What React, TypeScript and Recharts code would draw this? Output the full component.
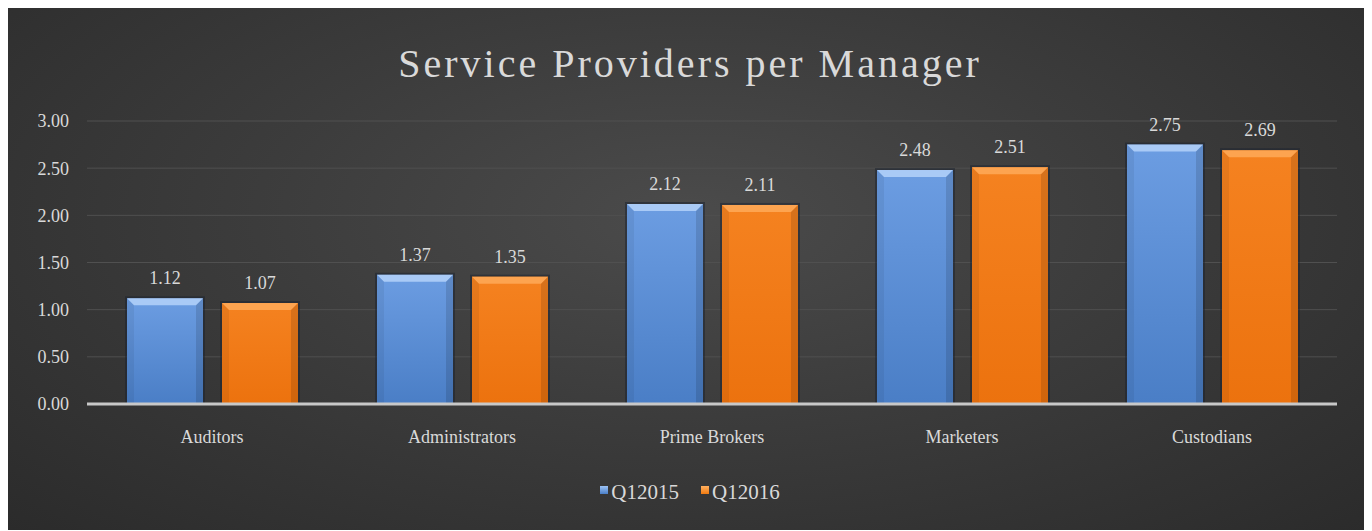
import React from 'react'
import { BarChart, Bar, XAxis, YAxis, CartesianGrid, LabelList } from 'recharts'

const categories = ['Auditors', 'Administrators', 'Prime Brokers', 'Marketers', 'Custodians']
const q12015 = [1.12, 1.37, 2.12, 2.48, 2.75]
const q12016 = [1.07, 1.35, 2.11, 2.51, 2.69]
const yTicks = [0, 0.5, 1, 1.5, 2, 2.5, 3]

const data = categories.map((name, i) => ({ name, q12015: q12015[i], q12016: q12016[i] }))

const FONT = '"Liberation Serif", "DejaVu Serif", serif'
const TEXT = '#d9d9d9'

const BevelBar = (props: any) => {
  const { x, y, width, height, gid, edge } = props
  if (!height || height <= 0) return null
  const b = 7
  return (
    <g>
      <rect x={x - 2} y={y - 2} width={width + 4} height={height + 2} fill="#1a2230" opacity={0.5} />
      <rect x={x} y={y} width={width} height={height} fill={`url(#${gid})`} />
      <polygon points={`${x},${y} ${x + width},${y} ${x + width - b},${y + b} ${x + b},${y + b}`} fill={edge} opacity={0.8} />
      <polygon points={`${x},${y} ${x + b},${y + b} ${x + b},${y + height} ${x},${y + height}`} fill="#000" opacity={0.06} />
      <polygon points={`${x + width},${y} ${x + width - b},${y + b} ${x + width - b},${y + height} ${x + width},${y + height}`} fill="#000" opacity={0.12} />
    </g>
  )
}

const LegendRow = () => (
  <div style={{ position: 'absolute', top: 472, left: 0, width: '100%', display: 'flex', justifyContent: 'center', gap: 22, fontFamily: FONT, fontSize: 21, color: TEXT }}>
    <span style={{ display: 'flex', alignItems: 'center', gap: 3 }}>
      <span style={{ width: 8, height: 8, marginTop: -6, background: 'linear-gradient(#9cc3f5, #4a7fc8)' }} />Q12015
    </span>
    <span style={{ display: 'flex', alignItems: 'center', gap: 3 }}>
      <span style={{ width: 8, height: 8, marginTop: -6, background: 'linear-gradient(#ffb060, #f07a10)' }} />Q12016
    </span>
  </div>
)

export default function App() {
  return (
    <div style={{ position: 'relative', width: 1364, height: 522, fontFamily: FONT, background: 'radial-gradient(ellipse at 50% 40%, #4b4b4b 0%, #3c3c3c 45%, #2b2b2b 100%)', overflow: 'hidden' }}>
      <style>{'.recharts-wrapper text { font-family: "Liberation Serif", "DejaVu Serif", serif; }'}</style>
      <div style={{ position: 'absolute', top: 32, left: 0, width: '100%', textAlign: 'center', fontSize: 40, letterSpacing: 3, color: TEXT }}>
        Service Providers per Manager
      </div>
      <BarChart width={1364} height={522} data={data} margin={{ top: 113, right: 35, bottom: 96, left: 0 }} barGap={19} barSize={76}>
        <defs>
          <linearGradient id="gBlue" x1="0" y1="0" x2="0" y2="1">
            <stop offset="0%" stopColor="#6c9de2" />
            <stop offset="100%" stopColor="#4a7ec6" />
          </linearGradient>
          <linearGradient id="gOrange" x1="0" y1="0" x2="0" y2="1">
            <stop offset="0%" stopColor="#f58220" />
            <stop offset="100%" stopColor="#ec720e" />
          </linearGradient>
        </defs>
        <CartesianGrid vertical={false} stroke="#505050" strokeWidth={1} />
        <XAxis dataKey="name" axisLine={{ stroke: '#c8c8c8', strokeWidth: 3 }} tickLine={false} tickMargin={20}
          tick={{ fill: TEXT, fontSize: 18, fontFamily: FONT }} />
        <YAxis domain={[0, 3]} ticks={yTicks} width={79} axisLine={false} tickLine={false} tickMargin={12}
          tickFormatter={(v: number) => v.toFixed(2)} tick={{ fill: TEXT, fontSize: 18, fontFamily: FONT }} />
        <Bar dataKey="q12015" isAnimationActive={false} shape={(p: any) => <BevelBar {...p} gid="gBlue" edge="#b9d6fb" />}>
          <LabelList dataKey="q12015" position="top" offset={14} formatter={(v: any) => Number(v).toFixed(2)} fill={TEXT} fontSize={18} fontFamily={FONT} />
        </Bar>
        <Bar dataKey="q12016" isAnimationActive={false} shape={(p: any) => <BevelBar {...p} gid="gOrange" edge="#ffad5c" />}>
          <LabelList dataKey="q12016" position="top" offset={14} formatter={(v: any) => Number(v).toFixed(2)} fill={TEXT} fontSize={18} fontFamily={FONT} />
        </Bar>
      </BarChart>
      <LegendRow />
    </div>
  )
}
